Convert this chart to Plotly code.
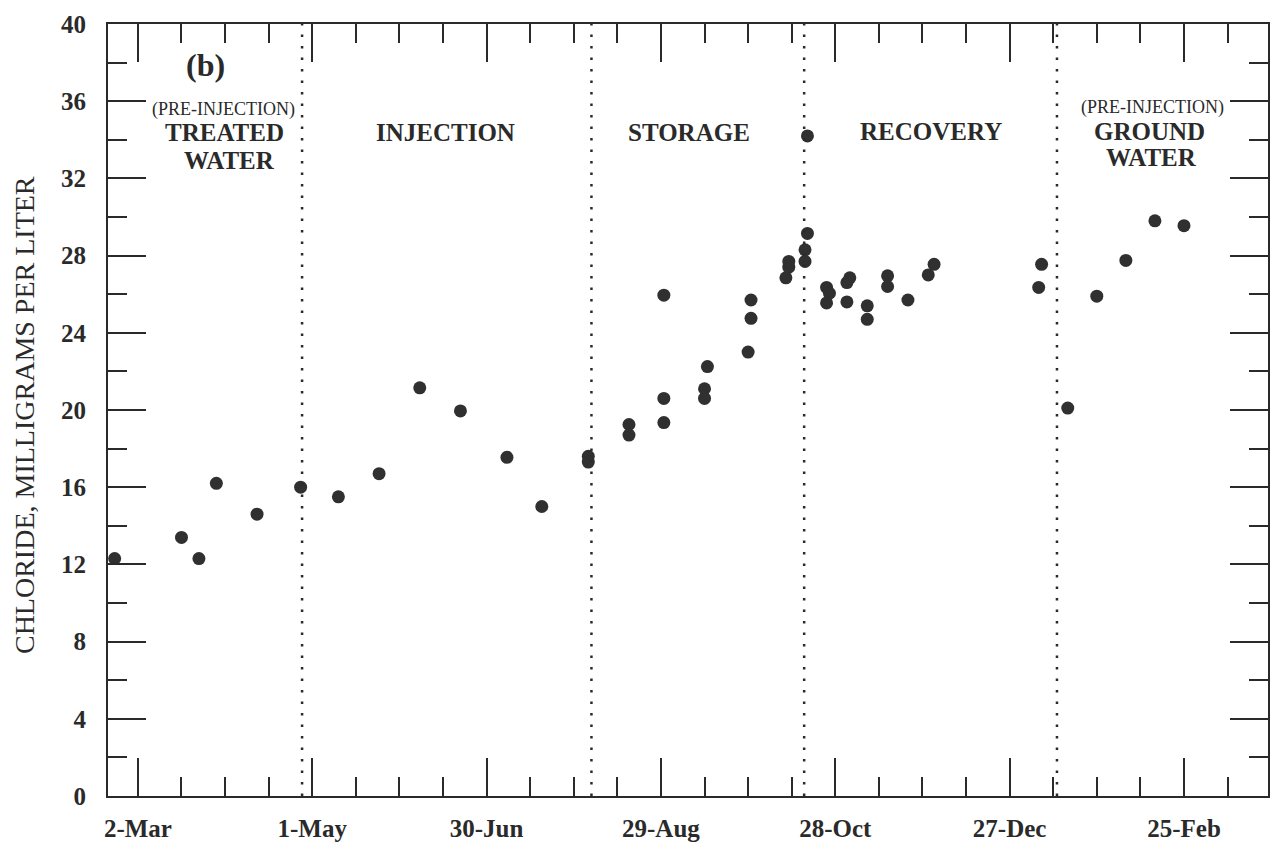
import plotly.graph_objects as go
import pandas as pd

# ---------------- data ----------------
sample_dates = [
    "1994-02-22", "1994-03-17", "1994-03-23", "1994-03-29", "1994-04-12",
    "1994-04-27", "1994-05-10", "1994-05-24", "1994-06-07", "1994-06-21",
    "1994-07-07", "1994-07-19", "1994-08-04", "1994-08-04", "1994-08-18",
    "1994-08-18", "1994-08-30", "1994-08-30", "1994-08-30", "1994-09-14",
    "1994-09-13", "1994-09-13", "1994-09-28", "1994-09-29", "1994-09-29",
    "1994-10-11", "1994-10-12", "1994-10-12", "1994-10-17 14:00", "1994-10-17 14:00",
    "1994-10-18 10:00", "1994-10-18 10:00", "1994-10-25", "1994-10-26", "1994-10-25",
    "1994-11-01", "1994-11-01", "1994-11-02", "1994-11-08", "1994-11-08",
    "1994-11-15", "1994-11-15", "1994-11-22", "1994-11-29", "1994-12-01",
    "1995-01-06", "1995-01-07", "1995-01-16", "1995-01-26", "1995-02-05",
    "1995-02-15", "1995-02-25",
]
chloride_mg_per_l = [
    12.3, 13.4, 12.3, 16.2, 14.6,
    16.0, 15.5, 16.7, 21.15, 19.95,
    17.55, 15.0, 17.6, 17.3, 19.25,
    18.7, 25.95, 20.6, 19.35, 22.25,
    21.1, 20.6, 23.0, 24.75, 25.7,
    26.85, 27.4, 27.7, 27.7, 28.3,
    29.15, 34.2, 26.35, 26.05, 25.55,
    25.6, 26.6, 26.85, 25.4, 24.7,
    26.95, 26.4, 25.7, 27.0, 27.55,
    26.35, 27.55, 20.1, 25.9, 27.75,
    29.8, 29.55,
]

phase_boundaries = ["1994-04-27 12:00", "1994-08-05 02:00",
                    "1994-10-17 07:00", "1995-01-12 07:00"]

x_range = ["1994-02-19 17:00", "1995-03-25 22:00"]
x_tick0 = "1994-03-02"
y_range = [0, 40]

# ---------------- styling ----------------
INK = "#2a2a2a"
SERIF = "Liberation Serif"
DAY_MS = 86400000
START = pd.Timestamp("1994-03-02")


def at_day(d):
    return (START + pd.Timedelta(days=d)).strftime("%Y-%m-%d %H:%M:%S")


fig = go.Figure()

fig.add_trace(go.Scatter(
    x=sample_dates, y=chloride_mg_per_l, mode="markers",
    marker=dict(size=13, color="#303030", line=dict(width=0)),
    cliponaxis=False, showlegend=False,
))

for b in phase_boundaries:
    fig.add_shape(type="line", xref="x", yref="paper", x0=b, x1=b, y0=0, y1=1,
                  line=dict(color=INK, width=2.5, dash="2.5px,9px"))

bold = dict(family=SERIF, size=25, color=INK, weight="bold")
small = dict(family=SERIF, size=18, color=INK)
labels = [
    ("(b)", 23.4, 37.85, dict(family=SERIF, size=32, color=INK, weight="bold")),
    ("(PRE-INJECTION)", 29.4, 35.55, small),
    ("TREATED", 29.8, 34.4, bold),
    ("WATER", 31.5, 32.95, bold),
    ("INJECTION", 105.9, 34.4, bold),
    ("STORAGE", 189.7, 34.4, bold),
    ("RECOVERY", 273.1, 34.45, bold),
    ("(PRE-INJECTION)", 349.2, 35.65, small),
    ("GROUND", 348.1, 34.45, bold),
    ("WATER", 348.7, 33.1, bold),
]
for txt, d, v, f in labels:
    fig.add_annotation(x=at_day(d), y=v, xref="x", yref="y", text=txt,
                       showarrow=False, font=f, xanchor="center", yanchor="middle")

fig.add_annotation(xref="paper", yref="paper", x=-0.0724, y=0.4935,
                   text="CHLORIDE, MILLIGRAMS PER LITER", textangle=-90,
                   showarrow=False, xanchor="center", yanchor="middle",
                   font=dict(family=SERIF, size=28, color=INK))

fig.update_xaxes(
    type="date", range=x_range, tick0=x_tick0, dtick=60 * DAY_MS,
    tickformat="%-d-%b", ticks="inside", ticklen=38, tickwidth=2, tickcolor=INK,
    minor=dict(tick0=x_tick0, dtick=15 * DAY_MS, ticks="inside", ticklen=19,
               tickwidth=2, tickcolor=INK, showgrid=False),
    showline=True, linewidth=2, linecolor=INK, mirror="ticks",
    showgrid=False, zeroline=False, ticklabelstandoff=9,
    tickfont=dict(family=SERIF, size=25, color=INK, weight="bold"),
)
fig.update_yaxes(
    range=y_range, tick0=0, dtick=4,
    ticks="inside", ticklen=38, tickwidth=2, tickcolor=INK,
    minor=dict(tick0=0, dtick=2, ticks="inside", ticklen=19, tickwidth=2,
               tickcolor=INK, showgrid=False),
    showline=True, linewidth=2, linecolor=INK, mirror="ticks",
    showgrid=False, zeroline=False, ticklabelstandoff=15,
    tickfont=dict(family=SERIF, size=25, color=INK, weight="bold"),
)

fig.update_layout(
    width=1273, height=850,
    margin=dict(l=108, r=5, t=24, b=54, autoexpand=False),
    paper_bgcolor="white", plot_bgcolor="white",
    showlegend=False,
)

fig.write_html("out.html")
